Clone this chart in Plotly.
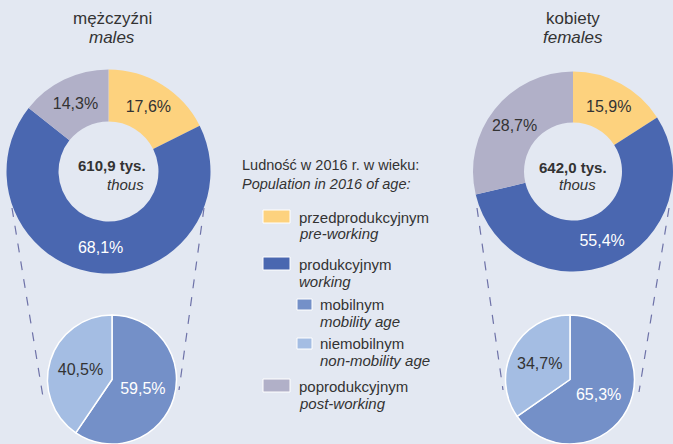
import plotly.graph_objects as go

W, H = 673, 444

# ---- data ----
age_groups_pl = ["przedprodukcyjnym", "produkcyjnym", "poprodukcyjnym"]
age_groups_en = ["pre-working", "working", "post-working"]
males_age = [17.6, 68.1, 14.3]
females_age = [15.9, 55.4, 28.7]
working_pl = ["mobilnym", "niemobilnym"]
working_en = ["mobility age", "non-mobility age"]
males_working = [59.5, 40.5]
females_working = [65.3, 34.7]
males_total = "610,9 tys."
females_total = "642,0 tys."

C_PRE = "#FDD27E"
C_WORK = "#4A67B0"
C_POST = "#B1B0C8"
C_MOB = "#7490C8"
C_NMOB = "#A4BDE3"
TXT = "#333333"
FONT = "Liberation Sans, Arial, sans-serif"


def px(x):
    return x / W


def py(y):
    return 1 - y / H


def fmt(v):
    return f"{v:.1f}".replace(".", ",") + "%"


fig = go.Figure()


def donut(values, x0, x1, y0, y1):
    fig.add_trace(go.Pie(
        values=values, labels=age_groups_pl, sort=False, direction="clockwise",
        rotation=0, hole=0.49,
        marker=dict(colors=[C_PRE, C_WORK, C_POST], line=dict(width=0)),
        text=[fmt(v) for v in values], textinfo="text", textposition="inside",
        insidetextorientation="horizontal",
        textfont=dict(family=FONT, size=16, color=[TXT, "white", TXT]),
        domain=dict(x=[px(x0), px(x1)], y=[py(y1), py(y0)]),
        showlegend=False, hoverinfo="label+text",
    ))


def pie(values, x0, x1, y0, y1):
    fig.add_trace(go.Pie(
        values=values, labels=working_pl, sort=False, direction="clockwise",
        rotation=0,
        marker=dict(colors=[C_MOB, C_NMOB], line=dict(width=1.5, color="white")),
        text=[fmt(v) for v in values], textinfo="text", textposition="inside",
        insidetextorientation="horizontal",
        textfont=dict(family=FONT, size=16, color=["white", TXT]),
        domain=dict(x=[px(x0), px(x1)], y=[max(0, py(y1)), py(y0)]),
        showlegend=False, hoverinfo="label+text",
    ))


donut(males_age, 6.5, 210.5, 69.5, 273.5)
donut(females_age, 473, 673, 69.5, 273.5)
pie(males_working, 46, 178, 315, 444)
pie(females_working, 505, 635, 315, 444)

shapes = []
# dashed connectors
for (xa, ya, xb, yb) in [(12, 208, 43, 397), (204, 208, 179, 390),
                         (477, 208, 503, 390), (669, 208, 639, 392)]:
    shapes.append(dict(type="line", xref="paper", yref="paper",
                       x0=px(xa), y0=py(ya), x1=px(xb), y1=py(yb),
                       line=dict(color="#6E72A8", width=1.2, dash="dash"),
                       layer="below"))

ann = []


def text(x, y, s, size=15, italic=False, bold=False, anchor="center"):
    if italic:
        s = f"<i>{s}</i>"
    if bold:
        s = f"<b>{s}</b>"
    ann.append(dict(x=px(x), y=py(y), xref="paper", yref="paper", text=s,
                    showarrow=False, xanchor=anchor, yanchor="middle",
                    font=dict(family=FONT, size=size, color=TXT)))


# titles
text(112, 18, "mężczyźni", 17)
text(112, 37, "males", 17, italic=True)
text(573, 18, "kobiety", 17)
text(573, 37, "females", 17, italic=True)

# centre labels
text(112, 166, males_total, 15, bold=True)
text(125, 184, "thous", 15, italic=True)
text(573, 167, females_total, 15, bold=True)
text(577, 184, "thous", 15, italic=True)

# legend
text(240, 165, "Ludność w 2016 r. w wieku:", 14.5, anchor="left")
text(240, 184, "Population in 2016 of age:", 14.5, italic=True, anchor="left")

legend_items = [
    (263, 210, 290, 223, C_PRE, 297, 217, age_groups_pl[0], age_groups_en[0]),
    (263, 257, 290, 270, C_WORK, 297, 264, age_groups_pl[1], age_groups_en[1]),
    (297, 299, 312, 310, C_MOB, 318, 304, working_pl[0], working_en[0]),
    (297, 338, 312, 349, C_NMOB, 318, 343, working_pl[1], working_en[1]),
    (263, 379, 290, 392, C_POST, 297, 386, age_groups_pl[2], age_groups_en[2]),
]
for (x0, y0, x1, y1, col, tx, ty, pl, en) in legend_items:
    shapes.append(dict(type="rect", xref="paper", yref="paper",
                       x0=px(x0), y0=py(y1), x1=px(x1), y1=py(y0),
                       fillcolor=col, line=dict(color="white", width=1)))
    text(tx, ty, pl, 15, anchor="left")
    text(tx, ty + 17, en, 15, italic=True, anchor="left")

fig.update_layout(
    width=W, height=H, margin=dict(l=0, r=0, t=0, b=0),
    paper_bgcolor="#E3E8F2", plot_bgcolor="#E3E8F2",
    shapes=shapes, annotations=ann, font=dict(family=FONT),
)

fig.write_html(
    "out.html",
    config={"displayModeBar": False},
    post_script="document.body.style.margin='0';document.body.style.overflow='hidden';",
)
